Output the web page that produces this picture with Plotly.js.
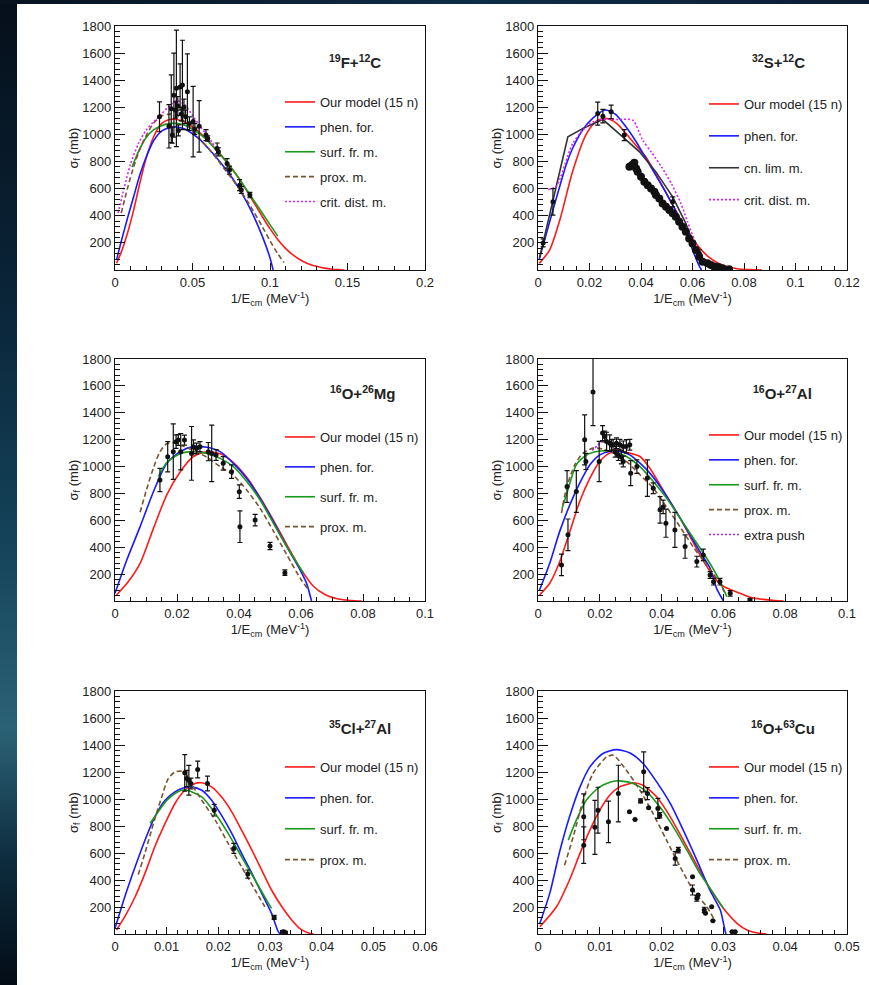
<!DOCTYPE html>
<html>
<head>
<meta charset="utf-8">
<script src="https://cdn.plot.ly/plotly-3.0.1.min.js"></script>
<style>
  html, body { margin: 0; padding: 0; width: 869px; height: 985px; overflow: hidden; }
  body {
    position: relative;
    background: linear-gradient(to bottom, #050f1a 0%, #0a2438 30%, #14435a 55%, #2c6276 74%, #0c2a3c 88%, #030c16 100%);
  }
  #topbar { position: absolute; left: 0; top: 0; width: 869px; height: 4px;
    background: linear-gradient(to right, #06121e 0%, #0f2d48 55%, #0a1d33 100%); }
  #chart { position: absolute; left: 17px; top: 4px; width: 852px; height: 981px; background: #fff; }
</style>
</head>
<body>
<div id="topbar"></div>
<div id="chart"></div>
<script>
// ---------- 19F + 12C ----------
const fcOurX  = [0.001,0.004,0.008,0.012,0.016,0.02,0.025,0.03,0.035,0.04,0.045,0.05,0.055,0.06,0.065,0.07,0.075,0.08,0.085,0.09,0.095,0.1,0.105,0.11,0.115,0.12,0.125,0.13,0.135,0.14,0.145,0.148];
const fcOurY  = [50,130,270,440,640,820,985,1080,1110,1110,1090,1055,1010,955,890,825,755,675,585,490,395,305,225,160,110,72,45,27,14,6,2,0];
const fcPhenX = [0.001,0.004,0.008,0.012,0.016,0.02,0.025,0.03,0.035,0.04,0.045,0.05,0.055,0.06,0.065,0.07,0.075,0.08,0.085,0.09,0.095,0.1,0.102];
const fcPhenY = [75,210,380,540,700,830,955,1025,1050,1055,1040,1005,960,900,835,765,690,600,500,385,250,90,0];
const fcSurfX = [0.011,0.015,0.02,0.025,0.03,0.035,0.04,0.045,0.05,0.055,0.06,0.065,0.07,0.075,0.08,0.085,0.09,0.095,0.1,0.105];
const fcSurfY = [760,870,975,1035,1065,1080,1082,1068,1040,1000,950,890,825,752,675,590,505,420,335,250];
const fcProxX = [0.004,0.008,0.012,0.016,0.02,0.025,0.03,0.035,0.04,0.045,0.05,0.055,0.06,0.065,0.07,0.075,0.08,0.085,0.09,0.095,0.1,0.105,0.109];
const fcProxY = [420,600,760,890,990,1085,1135,1150,1135,1095,1030,965,900,830,755,680,600,515,420,320,215,120,55];
const fcCritX = [0.002,0.006,0.01,0.015,0.02,0.025,0.03,0.035,0.04,0.045,0.05,0.055,0.06,0.065];
const fcCritY = [420,610,780,930,1030,1095,1150,1210,1250,1220,1140,1060,985,900];
const fcDataX = [0.0287,0.0348,0.0363,0.0370,0.0380,0.0390,0.0396,0.0405,0.0409,0.0420,0.0428,0.0435,0.0445,0.0455,0.0467,0.0480,0.0504,0.0515,0.0543,0.0587,0.0598,0.0659,0.0667,0.0723,0.0739,0.0804,0.0815,0.0870];
const fcDataY = [1130,1060,1190,995,1290,1180,1340,1210,1030,1350,1150,1365,1200,1130,1315,1080,1095,1040,1060,995,970,897,872,786,737,626,590,553];
const fcDataE = [110,160,250,60,310,60,430,70,40,170,50,330,60,50,280,50,260,40,190,40,20,40,30,35,30,40,25,20];

// ---------- 32S + 12C ----------
const scOurX  = [0.0005,0.0045,0.0085,0.0135,0.0187,0.0225,0.0255,0.028,0.031,0.034,0.038,0.042,0.046,0.05,0.054,0.058,0.062,0.066,0.07,0.074,0.078,0.082,0.087];
const scOurY  = [49,147,370,730,1000,1095,1118,1110,1075,1010,920,830,700,560,420,290,180,100,50,22,8,3,0];
const scPhenX = [0.0005,0.003,0.0058,0.0084,0.011,0.0135,0.0174,0.0213,0.026,0.03,0.034,0.038,0.042,0.046,0.05,0.054,0.058,0.06,0.0626,0.0635];
const scPhenY = [80,250,442,614,780,900,1035,1120,1180,1150,1060,950,820,690,560,420,265,150,30,0];
const scLimX  = [0.0006,0.0116,0.018,0.0252,0.0329,0.0394,0.0458,0.0523,0.0574,0.0613,0.0626];
const scLimY  = [90,982,1050,1110,982,872,724,540,344,147,98];
const scCritX = [0.004,0.007,0.0135,0.02,0.0252,0.031,0.0368,0.0406,0.044,0.048,0.052,0.0555,0.058,0.061,0.064];
const scCritY = [595,615,933,1080,1112,1110,1105,960,870,760,630,490,360,210,86];
const scErrX  = [0.002,0.0058,0.0232,0.0252,0.0284,0.0335,0.0523,0.0626];
const scErrY  = [200,503,1154,1135,1167,995,503,123];
const scErrE  = [30,98,85,50,50,40,37,25];
const scDenseX = [0.0355,0.0365,0.0374,0.0381,0.0387,0.0400,0.0413,0.0426,0.0439,0.0452,0.0458,0.0471,0.0484,0.0497,0.0510,0.0523,0.0535,0.0548,0.0561,0.0574,0.0587,0.0600,0.0613,0.0626,0.0639,0.0658,0.0671,0.0684,0.0700,0.0716,0.0742];
const scDenseY = [761,774,791,749,725,688,651,626,602,577,553,528,491,467,442,418,393,356,319,282,233,196,147,98,61,49,37,25,22,12,5];

// ---------- 16O + 26Mg ----------
const omgOurX  = [0.0005,0.004,0.0081,0.0124,0.0167,0.021,0.0253,0.0296,0.0339,0.0382,0.0425,0.0468,0.0511,0.0554,0.06,0.064,0.068,0.072,0.076,0.0796];
const omgOurY  = [45,135,280,540,790,960,1075,1110,1095,1030,920,770,600,420,235,110,45,15,4,0];
const omgPhenX = [0,0.0038,0.0081,0.0124,0.0167,0.021,0.0253,0.0296,0.0339,0.0382,0.0425,0.0468,0.0511,0.0554,0.0597,0.0618,0.0634];
const omgPhenY = [57,305,553,813,1024,1111,1148,1143,1111,1024,912,763,590,404,231,131,0];
const omgSurfX = [0.014,0.0167,0.021,0.0253,0.0296,0.0339,0.0382,0.0425,0.0468,0.0511,0.0554,0.0608];
const omgSurfY = [925,1030,1095,1111,1098,1061,999,888,751,578,404,206];
const omgProxX = [0.0081,0.0102,0.0124,0.0145,0.0167,0.0188,0.021,0.0253,0.0296,0.0339,0.0382,0.0425,0.0468,0.0511,0.0554,0.06,0.0622];
const omgProxY = [660,830,990,1110,1170,1175,1160,1120,1070,1000,935,825,690,520,345,160,90];
const omgDataX = [0.0145,0.017,0.0188,0.0197,0.0204,0.0212,0.0224,0.0247,0.0253,0.0263,0.0274,0.0301,0.0312,0.0326,0.0349,0.0376,0.0401,0.0403,0.0452,0.05,0.0548];
const omgDataY = [900,1073,1111,1185,1197,1111,1197,1098,1148,1135,1148,1111,1098,1086,1024,962,813,553,602,409,211];
const omgDataE = [87,112,206,50,40,135,37,200,50,40,37,68,210,40,50,50,50,118,43,27,20];

// ---------- 16O + 27Al ----------
const oalOurX  = [0.0005,0.0038,0.007,0.0103,0.0135,0.0168,0.02,0.0232,0.0265,0.0297,0.033,0.0362,0.0395,0.0427,0.046,0.0492,0.0524,0.0557,0.0589,0.0622,0.0654,0.069,0.073,0.0765,0.0795];
const oalOurY  = [45,132,290,516,740,914,1038,1100,1112,1100,1075,988,864,740,616,479,343,219,125,85,57,25,12,4,0];
const oalPhenX = [0.0005,0.0038,0.007,0.0103,0.0135,0.0168,0.02,0.0232,0.0265,0.0297,0.033,0.0362,0.0395,0.0427,0.046,0.0492,0.0524,0.0557,0.0578,0.06];
const oalPhenY = [82,281,516,715,876,1013,1087,1112,1112,1087,1025,951,852,740,616,492,367,243,94,0];
const oalSurfX = [0.0078,0.0092,0.0124,0.0157,0.019,0.0215,0.0243,0.0286,0.033,0.0373,0.0416,0.046,0.0503,0.0546,0.0578,0.0611];
const oalSurfY = [690,790,1013,1087,1112,1118,1112,1075,1000,889,765,616,467,318,194,32];
const oalProxX = [0.0076,0.0092,0.0119,0.0146,0.0178,0.021,0.0243,0.0286,0.033,0.0373,0.0416,0.046,0.0503,0.0546,0.0578,0.0605];
const oalProxY = [653,839,1013,1100,1137,1130,1100,1038,939,839,700,550,400,268,169,60];
const oalPushX = [0.0175,0.019,0.02,0.0208];
const oalPushY = [1120,1150,1175,1190];
const oalDataX = [0.0076,0.0097,0.0094,0.0124,0.0151,0.0155,0.0178,0.0198,0.0209,0.0216,0.0222,0.0232,0.0238,0.0243,0.0254,0.0265,0.0276,0.0286,0.0297,0.0300,0.0250,0.0260,0.0270,0.0276,0.0320,0.0354,0.0373,0.0395,0.0405,0.0414,0.0443,0.0476,0.0514,0.0535,0.0557,0.0568,0.0589,0.0622,0.0686];
const oalDataY = [268,492,852,814,1199,1038,1554,1038,1249,1224,1187,1174,1160,1162,1174,1162,1150,1150,1162,951,1110,1085,1070,1038,1000,914,839,678,700,579,529,405,293,343,194,144,144,57,7];
const oalDataE = [80,118,118,155,186,60,250,150,56,40,68,62,40,40,40,40,40,50,40,93,40,40,50,40,50,136,40,99,50,105,130,87,40,43,25,25,25,20,10];

// ---------- 35Cl + 27Al ----------
const clOurX  = [0.0003,0.0019,0.0039,0.0058,0.0077,0.0097,0.0116,0.0135,0.0155,0.0168,0.0187,0.0206,0.0226,0.0245,0.0265,0.0284,0.0303,0.0323,0.0342,0.0358,0.0372,0.0384];
const clOurY  = [30,128,276,449,646,819,967,1065,1115,1120,1090,1016,905,769,621,473,326,202,104,40,12,0];
const clPhenX = [0,0.0019,0.0039,0.0058,0.0077,0.0097,0.0116,0.0135,0.0148,0.0168,0.0187,0.0206,0.0226,0.0245,0.0265,0.0284,0.0303,0.0316,0.032];
const clPhenY = [42,276,498,695,868,991,1053,1085,1090,1065,991,880,745,597,449,301,153,17,0];
const clSurfX = [0.0068,0.008,0.01,0.012,0.0135,0.0168,0.0194,0.0219,0.0245,0.0271,0.0297,0.0303];
const clSurfY = [820,885,990,1050,1068,1016,893,745,572,400,227,190];
const clProxX = [0.0045,0.0058,0.007,0.008,0.009,0.0103,0.0116,0.0129,0.014,0.015,0.0168,0.0194,0.0219,0.0245,0.0271,0.029];
const clProxY = [440,600,760,890,1010,1150,1200,1205,1170,1100,991,843,671,498,326,202];
const clDataX = [0.0135,0.0139,0.0143,0.0147,0.016,0.0179,0.0192,0.023,0.0257,0.0308,0.0326,0.033];
const clDataY = [1194,1152,1139,1115,1218,1115,917,634,444,123,17,10];
const clDataE = [135,60,110,40,62,55,43,37,30,15,10,10];

// ---------- 16O + 63Cu ----------
const cuOurX  = [0.0003,0.003,0.0051,0.0068,0.0084,0.01,0.0116,0.0132,0.0149,0.0154,0.017,0.0192,0.0214,0.0235,0.0257,0.0278,0.03,0.0322,0.0338,0.0355,0.037];
const cuOurY  = [54,202,400,597,769,917,1028,1090,1115,1120,1102,1016,868,695,510,340,190,79,30,8,0];
const cuPhenX = [0.0003,0.0019,0.0035,0.0051,0.0068,0.0084,0.0105,0.0127,0.0149,0.017,0.0192,0.0214,0.0235,0.0257,0.0278,0.0295,0.0301,0.0304];
const cuPhenY = [79,301,609,868,1090,1238,1337,1366,1341,1263,1127,967,769,547,326,178,60,0];
const cuSurfX = [0.0049,0.0062,0.0078,0.01,0.0122,0.0132,0.0154,0.0176,0.0197,0.0219,0.0241,0.0262,0.0284,0.03];
const cuSurfY = [695,843,991,1090,1132,1134,1115,1053,942,794,621,449,301,190];
const cuProxX = [0.0043,0.0057,0.0073,0.0089,0.0111,0.0122,0.0143,0.0165,0.0186,0.0208,0.023,0.0251,0.0273,0.0286];
const cuProxY = [510,720,991,1189,1312,1324,1213,1065,893,695,498,326,202,100];
const cuDataX = [0.0074,0.0074,0.0092,0.0097,0.0114,0.0130,0.0148,0.0157,0.0166,0.0171,0.0177,0.0179,0.0194,0.0197,0.0208,0.0222,0.0227,0.0250,0.0250,0.0257,0.0259,0.0269,0.0271,0.0281,0.0283,0.0314,0.0319];
const cuDataY = [868,658,790,917,831,1040,905,848,986,1201,1040,935,930,880,782,560,621,424,326,264,288,178,153,202,99,17,17];
const cuDataE = [170,135,200,170,154,210,0,0,15,148,45,0,74,20,0,50,20,0,37,20,0,20,0,0,0,0,0];

// ---------- labels ----------
const systems = ['<sup>19</sup>F+<sup>12</sup>C', '<sup>32</sup>S+<sup>12</sup>C', '<sup>16</sup>O+<sup>26</sup>Mg',
                 '<sup>16</sup>O+<sup>27</sup>Al', '<sup>35</sup>Cl+<sup>27</sup>Al', '<sup>16</sup>O+<sup>63</sup>Cu'];
const modelNames = {our: 'Our model (15 n)', phen: 'phen. for.', surf: 'surf. fr. m.', prox: 'prox. m.',
                    crit: 'crit. dist. m.', lim: 'cn. lim. m.', push: 'extra push'};

// ---------- styling ----------
const FONT = 'Liberation Sans, Arial, Helvetica, sans-serif';
const INK = '#111';
const STYLE = {
  our:  {color: '#ff1a1a', dash: 'solid'},
  phen: {color: '#1a1aff', dash: 'solid'},
  surf: {color: '#1a9a1a', dash: 'solid'},
  prox: {color: '#7a5530', dash: '5px,3px'},
  crit: {color: '#dd22ff', dash: '2px,2px'},
  lim:  {color: '#333333', dash: 'solid'},
  push: {color: '#bb22ee', dash: '2px,2px'}
};

function curve(x, y, key, p, shape) {
  const s = STYLE[key];
  return {
    type: 'scatter', mode: 'lines', x: x, y: y, name: modelNames[key],
    xaxis: p === 1 ? 'x' : 'x' + p, yaxis: p === 1 ? 'y' : 'y' + p,
    legend: p === 1 ? 'legend' : 'legend' + p, legendgroup: 'g' + p + key,
    line: {color: s.color, width: 1.6, dash: s.dash, shape: shape || 'spline', smoothing: 0.7},
    hoverinfo: 'skip'
  };
}
function points(x, y, e, p, size) {
  const t = {
    type: 'scatter', mode: 'markers', x: x, y: y, showlegend: false,
    xaxis: p === 1 ? 'x' : 'x' + p, yaxis: p === 1 ? 'y' : 'y' + p,
    marker: {color: INK, size: size || 5}, hoverinfo: 'skip'
  };
  if (e) t.error_y = {type: 'data', array: e, visible: true, color: INK, thickness: 1.2, width: 2.5};
  return t;
}

const traces = [
  curve(fcOurX, fcOurY, 'our', 1), curve(fcPhenX, fcPhenY, 'phen', 1), curve(fcSurfX, fcSurfY, 'surf', 1),
  curve(fcProxX, fcProxY, 'prox', 1), curve(fcCritX, fcCritY, 'crit', 1),
  points(fcDataX, fcDataY, fcDataE, 1),

  curve(scOurX, scOurY, 'our', 2), curve(scPhenX, scPhenY, 'phen', 2), curve(scLimX, scLimY, 'lim', 2, 'linear'),
  curve(scCritX, scCritY, 'crit', 2),
  points(scErrX, scErrY, scErrE, 2), points(scDenseX, scDenseY, null, 2, 8),

  curve(omgOurX, omgOurY, 'our', 3), curve(omgPhenX, omgPhenY, 'phen', 3), curve(omgSurfX, omgSurfY, 'surf', 3),
  curve(omgProxX, omgProxY, 'prox', 3),
  points(omgDataX, omgDataY, omgDataE, 3),

  curve(oalOurX, oalOurY, 'our', 4), curve(oalPhenX, oalPhenY, 'phen', 4), curve(oalSurfX, oalSurfY, 'surf', 4),
  curve(oalProxX, oalProxY, 'prox', 4), curve(oalPushX, oalPushY, 'push', 4),
  points(oalDataX, oalDataY, oalDataE, 4),

  curve(clOurX, clOurY, 'our', 5), curve(clPhenX, clPhenY, 'phen', 5), curve(clSurfX, clSurfY, 'surf', 5),
  curve(clProxX, clProxY, 'prox', 5),
  points(clDataX, clDataY, clDataE, 5),

  curve(cuOurX, cuOurY, 'our', 6), curve(cuPhenX, cuPhenY, 'phen', 6), curve(cuSurfX, cuSurfY, 'surf', 6),
  curve(cuProxX, cuProxY, 'prox', 6),
  points(cuDataX, cuDataY, cuDataE, 6)
];

// ---------- layout ----------
const W = 852, H = 981, OX = 17, OY = 4;
const px = v => (v - OX) / W;
const py = v => 1 - (v - OY) / H;

const colX = [[px(115), px(425)], [px(538), px(847)]];
const rowY = [[py(270), py(26)], [py(601), py(359)], [py(934), py(691)]];
const xRange = [[0, 0.2], [0, 0.12], [0, 0.1], [0, 0.1], [0, 0.06], [0, 0.05]];
const xMajor = [0.05, 0.02, 0.02, 0.02, 0.01, 0.01];
const xMinor = [0.01, 0.005, 0.005, 0.005, 0.002, 0.002];
const titlePos = [[355, 62], [778, 62], [362, 393], [782, 393], [360, 727], [783, 727]];
const legendPos = [[280, 87, 5], [704, 89, 12], [280, 422, 10], [704, 420, 5], [280, 752, 11], [704, 752, 11]];

const layout = {
  width: W, height: H, margin: {l: 0, r: 0, t: 0, b: 0},
  paper_bgcolor: '#ffffff', plot_bgcolor: '#ffffff',
  font: {family: FONT, color: '#222', size: 13},
  showlegend: true, annotations: []
};

for (let i = 0; i < 6; i++) {
  const p = i + 1, sfx = p === 1 ? '' : String(p);
  const col = colX[i % 2], row = rowY[Math.floor(i / 2)];
  layout['xaxis' + sfx] = {
    domain: col, anchor: 'y' + sfx, range: xRange[i], dtick: xMajor[i], tick0: 0,
    showline: true, mirror: true, linecolor: INK, linewidth: 1.2, showgrid: false, zeroline: false,
    ticks: 'inside', ticklen: 7, tickwidth: 1, tickcolor: INK,
    minor: {ticks: 'inside', ticklen: 4, tickwidth: 1, tickcolor: INK, dtick: xMinor[i], tick0: 0, showgrid: false},
    tickfont: {family: FONT, size: 13, color: '#222'},
    title: {text: '1/E<sub>cm</sub> (MeV<sup>-1</sup>)', font: {family: FONT, size: 13, color: '#222'}, standoff: 4}
  };
  layout['yaxis' + sfx] = {
    domain: row, anchor: 'x' + sfx, range: [0, 1800], tickmode: 'array',
    tickvals: [200, 400, 600, 800, 1000, 1200, 1400, 1600, 1800],
    showline: true, mirror: true, linecolor: INK, linewidth: 1.2, showgrid: false, zeroline: false,
    ticks: 'inside', ticklen: 10, tickwidth: 1, tickcolor: INK,
    minor: {ticks: 'inside', ticklen: 5, tickwidth: 1, tickcolor: INK, tickmode: 'linear', dtick: 40, tick0: 0, showgrid: false},
    tickfont: {family: FONT, size: 13, color: '#222'},
    title: {text: 'σ<sub>f</sub> (mb)', font: {family: FONT, size: 13, color: '#222'}, standoff: 0}
  };
  layout['legend' + sfx] = {
    x: px(legendPos[i][0]), y: py(legendPos[i][1]), xanchor: 'left', yanchor: 'top',
    traceorder: 'grouped', tracegroupgap: legendPos[i][2], bgcolor: 'rgba(0,0,0,0)', borderwidth: 0,
    font: {family: FONT, size: 13, color: '#222'}
  };
  layout.annotations.push({
    xref: 'paper', yref: 'paper', x: px(titlePos[i][0]), y: py(titlePos[i][1]),
    xanchor: 'center', yanchor: 'middle', showarrow: false,
    text: '<b>' + systems[i] + '</b>', font: {family: FONT, size: 15, color: '#222'}
  });
}

Plotly.newPlot('chart', traces, layout, {staticPlot: true, displayModeBar: false});
</script>
</body>
</html>
